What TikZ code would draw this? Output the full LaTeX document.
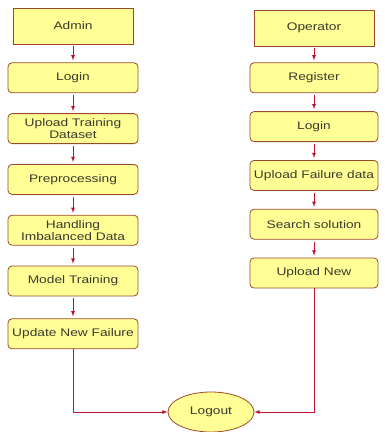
\documentclass[tikz,border=0pt]{standalone}
\usepackage{fontspec}
\setmainfont{Liberation Sans}[FakeStretch=1.25]
\usetikzlibrary{positioning,shapes.geometric,arrows}
\definecolor{fdfill}{HTML}{FFFF96}
\definecolor{fdedge}{HTML}{9C4A2A}
\definecolor{fdred}{HTML}{C0122C}
\definecolor{fdtext}{HTML}{3A3A2C}
\tikzset{
  actor/.style ={rectangle, draw=fdedge, thick, fill=fdfill, text=fdtext,
                 align=center, font=\fontsize{11}{12}\selectfont,
                 minimum height=36pt, minimum width=120pt, inner sep=1pt},
  stp/.style   ={rectangle, rounded corners=4pt, draw=fdedge, thick,
                 fill=fdfill, text=fdtext, align=center,
                 font=\fontsize{11}{12}\selectfont,
                 minimum height=30pt, minimum width=130pt, inner sep=1pt},
  stpr/.style  ={stp, minimum width=128pt},
  endn/.style  ={ellipse, draw=fdedge, thick, fill=fdfill, text=fdtext,
                 font=\fontsize{11}{12}\selectfont,
                 minimum width=86pt, minimum height=40pt, inner sep=0pt},
  fl/.style    ={-latex, draw=fdred, thick, shorten <=2pt, shorten >=2pt},
  fll/.style   ={-latex, draw=fdred, thick}
}
\begin{document}
\begin{tikzpicture}[x=1pt, y=1pt, node distance=20pt and 20pt]
  \useasboundingbox (0,0) rectangle (384,-432);

  \node[actor] (a1) at (73,-26) {Admin};
  \node[stp,below=18pt of a1] (a2) {Login};
  \node[stp,below=of a2] (a3) {Upload Training\\Dataset};
  \node[stp,below=of a3] (a4) {Preprocessing};
  \node[stp,below=of a4] (a5) {Handling\\Imbalanced Data};
  \node[stp,below=of a5] (a6) {Model Training};
  \node[stp,below=22pt of a6] (a7) {Update New Failure};

  \draw[fl] (a1)--(a2); \draw[fl] (a2)--(a3); \draw[fl] (a3)--(a4);
  \draw[fl] (a4)--(a5); \draw[fl] (a5)--(a6); \draw[fl] (a6)--(a7);

  \node[actor] (o1) at (314,-28) {Operator};
  \node[stpr,below=16pt of o1] (o2) {Register};
  \node[stpr,below=18pt of o2] (o3) {Login};
  \node[stpr,below=18pt of o3] (o4) {Upload Failure data};
  \node[stpr,below=18pt of o4] (o5) {Search solution};
  \node[stpr,below=18pt of o5] (o6) {Upload New};

  \draw[fl] (o1)--(o2); \draw[fl] (o2)--(o3); \draw[fl] (o3)--(o4);
  \draw[fl] (o4)--(o5); \draw[fl] (o5)--(o6);

  \node[endn] (lo) at (211,-412) {Logout};
  \draw[fll] (a7.south) |- (lo.west);
  \draw[fll] (o6.south) |- (lo.east);
\end{tikzpicture}
\end{document}
